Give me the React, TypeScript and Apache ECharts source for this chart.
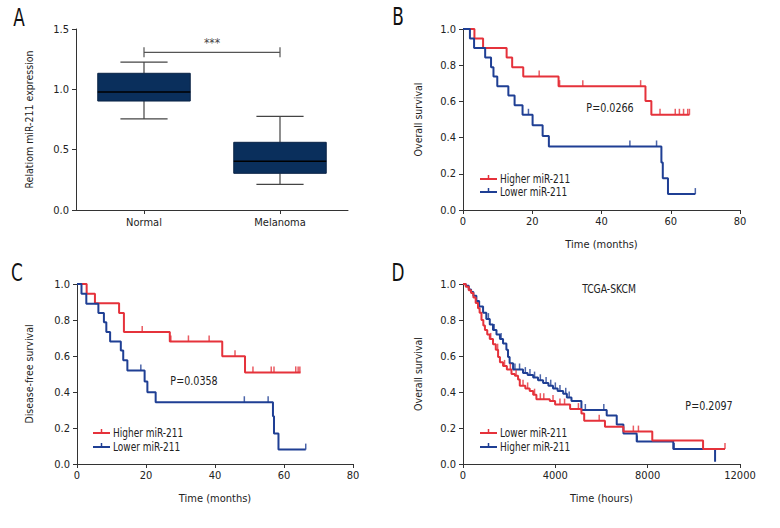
import React, { useEffect, useRef } from "react";
import * as echarts from "echarts";

const FONT = "'Liberation Sans Narrow', 'DejaVu Sans Condensed', 'Open Sans', sans-serif";
const RED = "#e5323b";
const BLUE = "#1f3f94";
const NAVY = "#0a2f5c";
const INK = "#222";

// ---------- Panel A : box plot ----------
const boxCategories = ["Normal", "Melanoma"];
// [low, q1, median, q3, high]
const boxStats = [
  [0.755, 0.903, 0.978, 1.133, 1.226],
  [0.213, 0.304, 0.403, 0.561, 0.776],
];
const bracketLevel = 1.307;
const sigLabel = "***";
const aYTicks = [0, 0.5, 1.0, 1.5];

// ---------- Panel B : overall survival (months) ----------
// [time, survival after event]
const bHigherSteps = [
  [0, 1], [3.3, 0.947], [5.8, 0.895], [12.6, 0.842], [14.2, 0.789], [17.4, 0.737],
  [27.6, 0.684], [52.7, 0.602], [54.4, 0.526], [65.4, 0.526],
];
const bHigherCensor = [22.0, 27.9, 34.6, 51.3, 56.9, 61.3, 62.5, 63.7, 64.9, 65.4];
const bLowerSteps = [
  [0, 1], [2.0, 0.947], [3.2, 0.895], [6.4, 0.842], [8.1, 0.789], [8.8, 0.737],
  [9.9, 0.684], [13.1, 0.632], [14.9, 0.579], [17.2, 0.526], [20.1, 0.468],
  [23.0, 0.409], [24.8, 0.351], [57.3, 0.263], [57.7, 0.175], [59.2, 0.088], [67.1, 0.088],
];
const bLowerCensor = [18.9, 48.2, 55.9, 67.1];

// ---------- Panel C : disease-free survival (months) ----------
const cHigherSteps = [
  [0, 1], [2.8, 0.946], [5.2, 0.893], [12.2, 0.839], [13.6, 0.733], [26.9, 0.681],
  [42.1, 0.598], [48.7, 0.509], [64.8, 0.509],
];
const cHigherCensor = [18.9, 27.2, 32.3, 38.3, 45.8, 51.0, 56.3, 57.1, 63.4, 64.1, 64.6];
const cLowerSteps = [
  [0, 1], [1.3, 0.946], [2.7, 0.89], [6.2, 0.839], [7.8, 0.787], [8.5, 0.733],
  [9.6, 0.681], [12.7, 0.63], [13.4, 0.576], [14.6, 0.519], [19.6, 0.459],
  [20.4, 0.398], [22.8, 0.343], [56.8, 0.265], [57.1, 0.169], [58.4, 0.08], [66.3, 0.08],
];
const cLowerCensor = [18.5, 48.5, 55.4, 66.3];

// ---------- Panel D : TCGA-SKCM overall survival (hours) ----------
const dLowerSteps = [
  [0, 1], [120, 0.985], [250, 0.965], [350, 0.95], [450, 0.925], [550, 0.895], [650, 0.865],
  [720, 0.84], [800, 0.8], [880, 0.77], [950, 0.745], [1050, 0.72], [1160, 0.695],
  [1300, 0.665], [1420, 0.635], [1520, 0.595], [1600, 0.565], [1735, 0.545], [1900, 0.525],
  [2100, 0.5], [2250, 0.49], [2385, 0.47], [2460, 0.435], [2700, 0.42], [2890, 0.405],
  [3040, 0.385], [3180, 0.36], [3760, 0.35], [3990, 0.33], [4640, 0.305], [5130, 0.28],
  [5250, 0.24], [6150, 0.207], [6950, 0.18], [8200, 0.13], [10400, 0.083], [11350, 0.083],
];
const dLowerCensor = [1200, 1500, 1800, 2050, 2300, 2600, 2800, 3100, 3350, 3500, 3900, 4200, 4400, 5000, 5900, 7380, 7600, 11350];
const dHigherSteps = [
  [0, 1], [120, 0.99], [250, 0.97], [350, 0.955], [450, 0.935], [580, 0.905], [700, 0.875],
  [870, 0.84], [1010, 0.805], [1160, 0.775], [1300, 0.745], [1450, 0.72], [1600, 0.695],
  [1735, 0.67], [1880, 0.635], [1950, 0.595], [2020, 0.56], [2170, 0.525], [2600, 0.505],
  [2800, 0.495], [3040, 0.48], [3250, 0.465], [3470, 0.45], [3700, 0.435], [3900, 0.42],
  [4100, 0.405], [4340, 0.39], [4500, 0.37], [4700, 0.35], [5130, 0.3], [6225, 0.27],
  [6660, 0.22], [6950, 0.17], [7525, 0.125], [9110, 0.083], [10920, 0.013],
];
const dHigherCensor = [1100, 1350, 1650, 2250, 2450, 2700, 2900, 3100, 3350, 3600, 3800, 4000, 4200, 4450, 4600, 5300, 6100, 7550, 9150];

function stepValue(steps: number[][], t: number) {
  let v = steps[0][1];
  for (const s of steps) {
    if (s[0] <= t) v = s[1];
  }
  return v;
}

function axisBase() {
  return {
    axisLine: { show: true, lineStyle: { color: "#333", width: 1 } },
    axisTick: { show: true, length: 4, lineStyle: { color: "#333" } },
    axisLabel: { color: INK, fontFamily: FONT, fontSize: 11 },
    splitLine: { show: false },
  };
}

function kmSeries(name: string, steps: number[][], censor: number[], color: string, idx: number) {
  return [
    {
      name,
      type: "line",
      step: "end",
      xAxisIndex: idx,
      yAxisIndex: idx,
      data: steps,
      symbol: "none",
      lineStyle: { color, width: 2 },
      itemStyle: { color },
      z: 3,
    },
    {
      name,
      type: "scatter",
      xAxisIndex: idx,
      yAxisIndex: idx,
      data: censor.map((t) => [t, stepValue(steps, t)]),
      symbol: "rect",
      symbolSize: [1.5, 6],
      symbolOffset: [0, -3],
      itemStyle: { color },
      z: 4,
    },
  ];
}

function textEl(x: number, y: number, text: string, size: number, align: string, sx: number, fill = INK) {
  return {
    type: "text",
    x,
    y,
    scaleX: sx,
    style: { text, fill, font: `${size}px ${FONT}`, textAlign: align, textVerticalAlign: "middle", align, verticalAlign: "middle" },
  };
}

function legendItem(x: number, y: number, color: string, text: string) {
  return [
    { type: "line", shape: { x1: x, y1: y, x2: x + 17, y2: y }, style: { stroke: color, lineWidth: 2 } },
    { type: "line", shape: { x1: x + 8.5, y1: y - 4, x2: x + 8.5, y2: y }, style: { stroke: color, lineWidth: 1.5 } },
    textEl(x + 20, y, text, 12.5, "left", 0.8),
  ];
}

export default function App() {
  const ref = useRef<HTMLDivElement>(null);

  useEffect(() => {
    if (!ref.current) return;
    const chart = echarts.init(ref.current, null, { renderer: "svg" });

    const grids = [
      { left: 76, top: 29, width: 272, height: 181 },
      { left: 463, top: 29, width: 277, height: 181 },
      { left: 77, top: 284, width: 276, height: 180 },
      { left: 463, top: 284, width: 277, height: 180 },
    ];

    const yName = (name: string, gap: number) => ({
      name,
      nameLocation: "middle",
      nameGap: gap,
      nameTextStyle: { color: INK, fontFamily: FONT, fontSize: 10.5 },
    });
    const xName = (name: string, gap: number) => ({
      name,
      nameLocation: "middle",
      nameGap: gap,
      nameTextStyle: { color: INK, fontFamily: FONT, fontSize: 11 },
    });

    const kmY = (i: number, name: string, gap: number) => ({
      ...axisBase(),
      type: "value",
      gridIndex: i,
      min: 0,
      max: 1,
      interval: 0.2,
      axisLabel: { ...axisBase().axisLabel, margin: 7, formatter: (v: number) => v.toFixed(1) },
      ...yName(name, gap),
    });
    const kmX = (i: number, max: number, interval: number, name: string) => ({
      ...axisBase(),
      type: "value",
      gridIndex: i,
      min: 0,
      max,
      interval,
      axisLabel: { ...axisBase().axisLabel, margin: 6, formatter: (v: number) => String(v) },
      ...xName(name, 29),
    });

    const option: any = {
      animation: false,
      backgroundColor: "#fff",
      grid: grids,
      xAxis: [
        {
          ...axisBase(),
          type: "category",
          gridIndex: 0,
          data: boxCategories,
          boundaryGap: true,
          axisTick: { show: true, length: 4, alignWithLabel: true, lineStyle: { color: "#333" } },
          axisLabel: { ...axisBase().axisLabel, margin: 7 },
        },
        kmX(1, 80, 20, "Time (months)"),
        kmX(2, 80, 20, "Time (months)"),
        kmX(3, 12000, 4000, "Time (hours)"),
      ],
      yAxis: [
        {
          ...axisBase(),
          type: "value",
          gridIndex: 0,
          min: aYTicks[0],
          max: aYTicks[aYTicks.length - 1],
          interval: 0.5,
          axisLabel: { ...axisBase().axisLabel, margin: 7, formatter: (v: number) => v.toFixed(1) },
          ...yName("Relatiom miR-211 expression", 42),
        },
        kmY(1, "Overall survival", 40),
        kmY(2, "Disease-free survival", 43),
        kmY(3, "Overall survival", 40),
      ],
      series: [
        {
          type: "custom",
          xAxisIndex: 0,
          yAxisIndex: 0,
          data: boxStats.map((s, i) => [i, ...s]),
          encode: { x: 0, y: [1, 2, 3, 4, 5] },
          renderItem: (params: any, api: any) => {
            const i = api.value(0);
            const low = api.coord([i, api.value(1)]);
            const q1 = api.coord([i, api.value(2)]);
            const med = api.coord([i, api.value(3)]);
            const q3 = api.coord([i, api.value(4)]);
            const high = api.coord([i, api.value(5)]);
            const band = api.size([1, 0])[0];
            const bw = band * 0.68;
            const cw = bw * 0.51;
            const cx = low[0];
            const lineStyle = { stroke: "#444", lineWidth: 1.2 };
            return {
              type: "group",
              children: [
                { type: "line", shape: { x1: cx, y1: high[1], x2: cx, y2: q3[1] }, style: lineStyle },
                { type: "line", shape: { x1: cx, y1: low[1], x2: cx, y2: q1[1] }, style: lineStyle },
                { type: "line", shape: { x1: cx - cw / 2, y1: high[1], x2: cx + cw / 2, y2: high[1] }, style: lineStyle },
                { type: "line", shape: { x1: cx - cw / 2, y1: low[1], x2: cx + cw / 2, y2: low[1] }, style: lineStyle },
                {
                  type: "rect",
                  shape: { x: cx - bw / 2, y: q3[1], width: bw, height: q1[1] - q3[1] },
                  style: { fill: NAVY, stroke: "#0b2446", lineWidth: 1 },
                },
                { type: "line", shape: { x1: cx - bw / 2, y1: med[1], x2: cx + bw / 2, y2: med[1] }, style: { stroke: "#000", lineWidth: 1.5 } },
              ],
            };
          },
          z: 3,
        },
        {
          type: "custom",
          xAxisIndex: 0,
          yAxisIndex: 0,
          data: [[0, 1, bracketLevel]],
          encode: { x: [0, 1], y: 2 },
          renderItem: (params: any, api: any) => {
            const p0 = api.coord([api.value(0), api.value(2)]);
            const p1 = api.coord([api.value(1), api.value(2)]);
            const st = { stroke: "#555", lineWidth: 1.2 };
            return {
              type: "group",
              children: [
                { type: "line", shape: { x1: p0[0], y1: p0[1], x2: p1[0], y2: p1[1] }, style: st },
                { type: "line", shape: { x1: p0[0], y1: p0[1] - 5, x2: p0[0], y2: p0[1] + 5 }, style: st },
                { type: "line", shape: { x1: p1[0], y1: p1[1] - 5, x2: p1[0], y2: p1[1] + 5 }, style: st },
                {
                  type: "text",
                  x: (p0[0] + p1[0]) / 2,
                  y: p0[1] - 9,
                  style: { text: sigLabel, fill: "#444", font: `12px ${FONT}`, textAlign: "center", textVerticalAlign: "middle", align: "center", verticalAlign: "middle" },
                },
              ],
            };
          },
        },
        ...kmSeries("Higher miR-211", bHigherSteps, bHigherCensor, RED, 1),
        ...kmSeries("Lower miR-211", bLowerSteps, bLowerCensor, BLUE, 1),
        ...kmSeries("Higher miR-211", cHigherSteps, cHigherCensor, RED, 2),
        ...kmSeries("Lower miR-211", cLowerSteps, cLowerCensor, BLUE, 2),
        ...kmSeries("Higher miR-211", dHigherSteps, dHigherCensor, BLUE, 3),
        ...kmSeries("Lower miR-211", dLowerSteps, dLowerCensor, RED, 3),
      ],
      graphic: [
        textEl(19, 17, "A", 25, "center", 0.75, "#111"),
        textEl(398, 16, "B", 25, "center", 0.75, "#111"),
        textEl(17, 272, "C", 25, "center", 0.75, "#111"),
        textEl(398, 272, "D", 25, "center", 0.75, "#111"),
        textEl(610, 108, "P=0.0266", 13, "center", 0.82),
        textEl(194, 381, "P=0.0358", 13, "center", 0.82),
        textEl(709, 406, "P=0.2097", 13, "center", 0.82),
        textEl(609, 289, "TCGA-SKCM", 12.5, "center", 0.82),
        ...legendItem(480, 179, RED, "Higher miR-211"),
        ...legendItem(480, 192, BLUE, "Lower miR-211"),
        ...legendItem(93, 433, RED, "Higher miR-211"),
        ...legendItem(93, 447, BLUE, "Lower miR-211"),
        ...legendItem(480, 433, RED, "Lower miR-211"),
        ...legendItem(480, 447, BLUE, "Higher miR-211"),
      ],
    };

    chart.setOption(option);
    return () => chart.dispose();
  }, []);

  return <div ref={ref} style={{ position: "absolute", left: 0, top: 0, width: 780, height: 528, background: "#fff" }} />;
}
